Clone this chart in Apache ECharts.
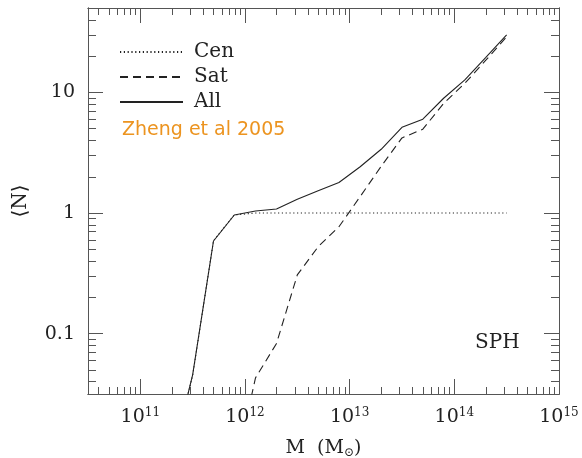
<!DOCTYPE html>
<html>
<head>
<meta charset="utf-8">
<script src="https://cdn.jsdelivr.net/npm/echarts@6/dist/echarts.min.js"></script>
<style>
  html, body { margin: 0; padding: 0; background: #fff; }
  #chart { width: 582px; height: 458px; }
</style>
</head>
<body>
<div id="chart"></div>
<script>
// halo mass bins (M_sun), 0.2 dex apart
var masses = [2.0e11, 3.16e11, 5.0e11, 7.9e11, 1.26e12, 2.0e12, 3.16e12, 5.0e12, 7.9e12,
              1.26e13, 2.0e13, 3.16e13, 5.0e13, 7.9e13, 1.26e14, 2.0e14, 3.16e14];
// mean occupation
var nCen = [0.009, 0.045, 0.59, 0.965, 1, 1, 1, 1, 1, 1, 1, 1, 1, 1, 1, 1, 1];
var nSat = [null, null, null, 0.007, 0.043, 0.083, 0.307, 0.526, 0.77, 1.37, 2.44, 4.2, 4.96, 8.1, 11.9, 18.5, 29];
var nAll = [0.009, 0.0455, 0.587, 0.964, 1.04, 1.08, 1.30, 1.53, 1.79, 2.42, 3.38, 5.14, 6.0, 8.95, 12.7, 19.5, 30];

// axis ranges in log10
var xRange = [10.5, 15];
var yRange = [-1.5, 1.7];
var xMajor = [11, 12, 13, 14, 15];
var yMajor = [-1, 0, 1];
var yTickLabels = { '-1': '0.1', '0': '1', '1': '10' };

var chart = echarts.init(document.getElementById('chart'));
var serif = 'DejaVu Serif';
var ink = '#222';
var frame = '#555';

// minor ticks at 2..9 of every decade
function minorTicks(range) {
    var out = [];
    for (var d = Math.floor(range[0]); d < range[1]; d++) {
        for (var k = 2; k <= 9; k++) {
            var v = d + Math.log10(k);
            if (v > range[0] && v <= range[1] + 1e-9) out.push(v);
        }
    }
    return out;
}

function toLog(vals) {
    var data = [];
    for (var i = 0; i < masses.length; i++) {
        if (vals[i] == null) continue;
        data.push([Math.log10(masses[i]), Math.log10(vals[i])]);
    }
    return data;
}

function axis(range, pos, ticks, len) {
    return {
        type: 'value',
        position: pos,
        min: range[0],
        max: range[1],
        splitLine: { show: false },
        axisLine: { show: true, onZero: false, lineStyle: { color: frame, width: 1 } },
        axisTick: { show: true, inside: true, length: len, customValues: ticks,
                    lineStyle: { color: frame, width: 1 } },
        axisLabel: { show: false }
    };
}

var xMain = axis(xRange, 'bottom', xMajor, 15);
xMain.axisLabel = {
    show: true,
    margin: 13,
    customValues: xMajor,
    formatter: function (v) { return '{b|10}{s|' + Math.round(v) + '}'; },
    rich: {
        b: { fontFamily: serif, fontSize: 19, color: ink, lineHeight: 20 },
        s: { fontFamily: serif, fontSize: 12, color: ink, lineHeight: 12, verticalAlign: 'top' }
    }
};
xMain.name = '{n|M  (M}{o|\u2299}{n|)}';
xMain.nameLocation = 'middle';
xMain.nameGap = 43;
xMain.nameTextStyle = {
    rich: {
        n: { fontFamily: serif, fontSize: 19, color: ink, lineHeight: 22 },
        o: { fontFamily: serif, fontSize: 12, color: ink, lineHeight: 12, verticalAlign: 'bottom' }
    }
};

var yMain = axis(yRange, 'left', yMajor, 15);
yMain.axisLabel = {
    show: true,
    margin: 13,
    customValues: yMajor,
    fontFamily: serif,
    fontSize: 19,
    color: ink,
    formatter: function (v) { return yTickLabels[String(Math.round(v))]; }
};
yMain.name = '\u27E8N\u27E9';
yMain.nameLocation = 'middle';
yMain.nameRotate = 90;
yMain.nameGap = 57;
yMain.nameTextStyle = { fontFamily: serif, fontSize: 20, color: ink };

chart.setOption({
    animation: false,
    backgroundColor: '#fff',
    grid: { left: 88, right: 23, top: 8, bottom: 64, containLabel: false, outerBoundsMode: 'none' },
    xAxis: [
        xMain,
        axis(xRange, 'bottom', minorTicks(xRange), 7),
        axis(xRange, 'top', xMajor, 15),
        axis(xRange, 'top', minorTicks(xRange), 7)
    ],
    yAxis: [
        yMain,
        axis(yRange, 'left', minorTicks(yRange), 8),
        axis(yRange, 'right', yMajor, 15),
        axis(yRange, 'right', minorTicks(yRange), 8)
    ],
    legend: {
        orient: 'vertical',
        left: 114,
        top: 37,
        itemWidth: 63,
        itemHeight: 14,
        itemGap: 5,
        selectedMode: false,
        itemStyle: { opacity: 0 },
        textStyle: { fontFamily: serif, fontSize: 20, color: ink, lineHeight: 20, padding: [0, 0, 0, 6] },
        data: ['Cen', 'Sat', 'All']
    },
    graphic: [
        { type: 'text', left: 122, top: 121,
          style: { text: 'Zheng et al 2005', font: '19px "DejaVu Sans"', fill: '#ec9420' } },
        { type: 'text', left: 475, top: 333,
          style: { text: 'SPH', font: '20px "DejaVu Serif"', fill: ink } }
    ],
    series: [
        { name: 'Cen', type: 'line', symbol: 'none', data: toLog(nCen),
          lineStyle: { color: ink, width: 1.1, type: [1.2, 2.6] }, itemStyle: { color: ink } },
        { name: 'Sat', type: 'line', symbol: 'none', data: toLog(nSat),
          lineStyle: { color: ink, width: 1.1, type: [8, 5] }, itemStyle: { color: ink } },
        { name: 'All', type: 'line', symbol: 'none', data: toLog(nAll),
          lineStyle: { color: ink, width: 1.1 }, itemStyle: { color: ink } }
    ]
});
</script>
</body>
</html>
